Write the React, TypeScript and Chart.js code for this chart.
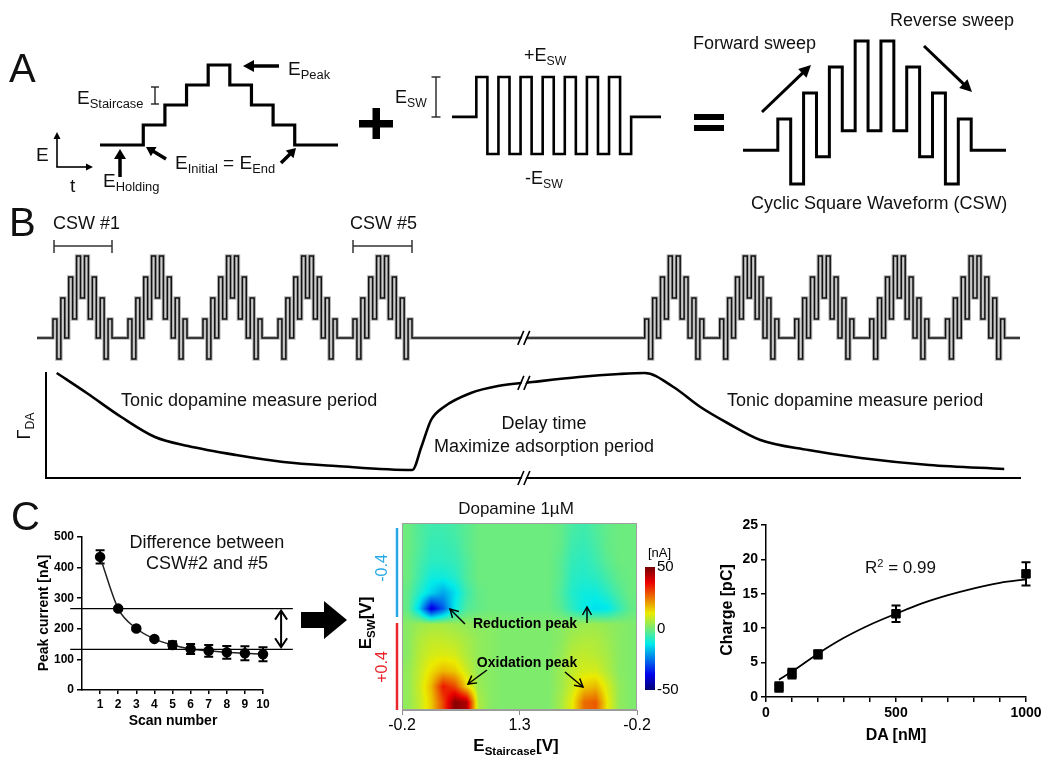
import React, { useEffect, useRef } from 'react';
import { Chart, registerables } from 'chart.js';
Chart.register(...registerables);

const FONT = '"Liberation Sans", Arial, Helvetica, sans-serif';
Chart.defaults.font.family = FONT;
Chart.defaults.color = '#000';

// ---------------- Panel A data ----------------
const STAIR_EDGES = [-2, 0, 1, 2, 3, 4, 5, 6, 7, 9];
const STAIR_LEVELS = [0, 1, 2, 3, 4, 3, 2, 1, 0];
const SQW_EDGES = [-2.2, 0, 1, 2, 3, 4, 5, 6, 7, 8, 9, 10, 11, 12, 13, 14, 16.7];
const SQW_LEVELS = [0, 1, -0.93, 1, -0.93, 1, -0.93, 1, -0.93, 1, -0.93, 1, -0.93, 1, -0.93, 0];
const CSW_A_HIGHS = [1.2, 2.2, 3.2, 4.2, 4.2, 3.2, 2.2, 1.2];
const CSW_A_LOWS = [-1.3, -0.25, 0.75, 0.75, 0.75, -0.25, -1.3];
const CSW_A_SPAN = [-2.7, 17.7];

// ---------------- Panel B data ----------------
const CSW_B_HIGHS = [0.9, 1.9, 2.9, 3.9, 3.9, 2.9, 1.9, 0.9];
const CSW_B_LOWS = [-1.0, 0, 0.9, 1.9, 0.9, 0, -1.0];
const CSW_B_STARTS = [0, 1, 2, 3, 4, 7.89, 8.89, 9.89, 10.89, 11.9];
const CSW_B_DURATION = 0.787;
const TRACE_SPAN = [-0.213, 12.893];
const GAMMA_AXIS_SPAN = [-0.093, 12.89];
const BREAK_T = 6.29;
const GAMMA_T = [0.05, 0.45, 0.91, 1.36, 1.8, 2.44, 3.07, 3.77, 4.79, 4.91, 5.04, 5.21, 5.57, 5.93, 6.39, 7.01, 7.55, 7.89, 8.27, 8.63, 8.99, 9.43, 10.07, 10.77, 11.68, 12.68];
const GAMMA = [1.05, 0.85, 0.61, 0.41, 0.32, 0.23, 0.16, 0.12, 0.08, 0.31, 0.58, 0.71, 0.85, 0.92, 0.96, 1.01, 1.04, 1.05, 0.91, 0.71, 0.55, 0.38, 0.28, 0.2, 0.13, 0.09];

// ---------------- Panel C data ----------------
const SCAN = [1, 2, 3, 4, 5, 6, 7, 8, 9, 10];
const PEAK = [435, 266, 201, 167, 147, 134, 128, 123, 120, 117];
const PEAK_ERR = [22, 4, 4, 4, 12, 16, 19, 21, 23, 23];
const DIFF_LINES = [266, 133];

const DA = [50, 100, 200, 500, 1000];
const CHARGE = [1.45, 3.4, 6.2, 12.1, 17.9];
const CHARGE_ERR = [0.7, 0.7, 0.6, 1.2, 1.7];
const FIT_DA = [50, 100, 200, 300, 400, 500, 600, 700, 800, 900, 1000];
const FIT_CHARGE = [2.5, 3.7, 6.3, 8.6, 10.5, 12.1, 13.6, 14.8, 15.8, 16.6, 17.1];

const HEAT_XTICKS = ['-0.2', '1.3', '-0.2'];
const HEAT_XTICK_POS = [0, 10, 20];
const HEAT_MIN = -50;
const HEAT_MAX = 50;
const COLORBAR_TICKS = [50, 0, -50];
const HEAT = [
  [-1, -4, -6, -6, -5, -3, -1, -1, -1, -1, -1, -1, -1, -2, -5, -6, -4, -2, -1, -1],
  [-1, -4, -7, -7, -6, -3, -1, -1, -1, -1, -1, -1, -1, -2, -6, -7, -5, -2, -1, -1],
  [-1, -5, -8, -8, -7, -4, -1, -1, -1, -1, -1, -1, -1, -3, -7, -8, -6, -3, -1, -1],
  [-1, -6, -11, -11, -9, -4, -1, -1, -1, -1, -1, -1, -1, -3, -8, -9, -8, -5, -2, -1],
  [-2, -9, -15, -20, -14, -6, -2, -1, -1, -1, -1, -1, -1, -4, -9, -11, -11, -8, -4, -1],
  [-2, -16, -40, -28, -12, -4, -2, -1, -1, -1, -1, -1, -1, -3, -8, -12, -14, -13, -7, -2],
  [2, 4, 5, 5, 4, 3, 2, 2, 1, 1, 1, 1, 1, 2, 3, 4, 4, 3, 2, 1],
  [2, 6, 8, 8, 7, 5, 3, 2, 1, 1, 1, 1, 1, 2, 5, 6, 6, 4, 2, 1],
  [2, 7, 10, 11, 10, 6, 3, 2, 1, 1, 1, 1, 1, 3, 7, 8, 7, 5, 2, 1],
  [3, 8, 14, 18, 16, 9, 3, 2, 1, 1, 1, 1, 1, 4, 8, 10, 10, 6, 2, 1],
  [3, 9, 18, 35, 30, 15, 4, 2, 1, 1, 1, 1, 1, 4, 9, 16, 18, 10, 3, 1],
  [3, 8, 16, 30, 48, 44, 6, 2, 1, 1, 1, 1, 1, 5, 12, 26, 28, 12, 3, 1],
];

// ---------------- helpers ----------------
function interleave(a: number[], b: number[]) {
  const out: number[] = [];
  a.forEach((v, i) => { out.push(v); if (i < b.length) out.push(b[i]); });
  return out;
}
function stepPoints(edges: number[], levels: number[]) {
  const pts: { x: number; y: number }[] = [];
  levels.forEach((lv, i) => { pts.push({ x: edges[i], y: lv }, { x: edges[i + 1], y: lv }); });
  return pts;
}
function cswAPoints() {
  const seq = interleave(CSW_A_HIGHS, CSW_A_LOWS);
  const edges = [CSW_A_SPAN[0], ...seq.map((_, i) => i), seq.length, CSW_A_SPAN[1]];
  return stepPoints(edges, [0, ...seq, 0]);
}
function traceBPoints() {
  const seq = interleave(CSW_B_HIGHS, CSW_B_LOWS);
  const seg = CSW_B_DURATION / seq.length;
  const edges = [TRACE_SPAN[0]];
  const levels: number[] = [];
  CSW_B_STARTS.forEach((s) => {
    levels.push(0); edges.push(s);
    seq.forEach((v, k) => { levels.push(v); edges.push(s + seg * (k + 1)); });
  });
  levels.push(0); edges.push(TRACE_SPAN[1]);
  return stepPoints(edges, levels);
}
function interpGamma(t: number) {
  for (let i = 0; i < GAMMA_T.length - 1; i++) {
    if (t >= GAMMA_T[i] && t <= GAMMA_T[i + 1]) {
      const f = (t - GAMMA_T[i]) / (GAMMA_T[i + 1] - GAMMA_T[i]);
      return GAMMA[i] + f * (GAMMA[i + 1] - GAMMA[i]);
    }
  }
  return 0;
}
function jet(v: number): [number, number, number] {
  const t = Math.min(1, Math.max(0, (v - HEAT_MIN) / (HEAT_MAX - HEAT_MIN)));
  const c = (x: number) => Math.round(235 * Math.min(1, Math.max(0, x)));
  return [c(1.5 - Math.abs(4 * t - 3)), c(1.5 - Math.abs(4 * t - 2)), c(1.5 - Math.abs(4 * t - 1))];
}
function drawBreak(ctx: CanvasRenderingContext2D, x: number, y: number) {
  ctx.save();
  ctx.fillStyle = '#fff';
  ctx.beginPath();
  ctx.moveTo(x - 6, y + 7); ctx.lineTo(x, y - 7); ctx.lineTo(x + 4, y - 7); ctx.lineTo(x - 2, y + 7);
  ctx.closePath(); ctx.fill();
  ctx.strokeStyle = '#000'; ctx.lineWidth = 1.6;
  ctx.beginPath();
  ctx.moveTo(x - 7, y + 7); ctx.lineTo(x - 1, y - 7);
  ctx.moveTo(x - 1, y + 7); ctx.lineTo(x + 5, y - 7);
  ctx.stroke();
  ctx.restore();
}
function fixSize(dim: 'width' | 'height', size: number) {
  return (s: any) => {
    s[dim] = size;
    s.paddingLeft = 0; s.paddingRight = 0; s.paddingTop = 0; s.paddingBottom = 0;
  };
}
function diagramConfig(datasets: any[], xr: number[], yr: number[], padding: any, plugins: any[] = []) {
  return {
    type: 'scatter',
    data: { datasets },
    options: {
      responsive: false, animation: false, events: [],
      layout: { padding },
      plugins: { legend: { display: false }, tooltip: { enabled: false } },
      scales: {
        x: { type: 'linear', min: xr[0], max: xr[1], display: false },
        y: { type: 'linear', min: yr[0], max: yr[1], display: false },
      },
    },
    plugins,
  };
}
function traceDs(points: any[], width: number, color = '#000') {
  return { data: points, showLine: true, borderColor: color, borderWidth: width, pointRadius: 0, tension: 0, clip: false, borderJoinStyle: 'miter', borderCapStyle: 'butt' };
}
function errorBarPlugin(id: string, dsIndex: number, errs: number[], cap: number, width: number) {
  return {
    id,
    beforeDatasetsDraw(chart: any) {
      const { ctx } = chart;
      const ys = chart.scales.y;
      const meta = chart.getDatasetMeta(dsIndex);
      const data = chart.data.datasets[dsIndex].data;
      ctx.save(); ctx.strokeStyle = '#000'; ctx.lineWidth = width;
      meta.data.forEach((el: any, i: number) => {
        const v = data[i].y, e = errs[i];
        const yt = ys.getPixelForValue(v + e), yb = ys.getPixelForValue(v - e);
        ctx.beginPath();
        ctx.moveTo(el.x, yt); ctx.lineTo(el.x, yb);
        ctx.moveTo(el.x - cap, yt); ctx.lineTo(el.x + cap, yt);
        ctx.moveTo(el.x - cap, yb); ctx.lineTo(el.x + cap, yb);
        ctx.stroke();
      });
      ctx.restore();
    },
  };
}
const tickStyle = (size: number) => ({ font: { size, weight: 'bold' }, color: '#000', padding: 3, maxRotation: 0, minRotation: 0 });
const gridStyle = { display: true, drawOnChartArea: false, drawTicks: true, tickLength: 5, color: '#000', lineWidth: 1.5 };
const borderStyle = { display: true, color: '#000', width: 1.5 };

// ---------------- chart configs ----------------
const stairConfig = () => diagramConfig([traceDs(stepPoints(STAIR_EDGES, STAIR_LEVELS), 3.2)], [-2, 9], [0, 4], { left: 10, right: 12, top: 10, bottom: 10 });
const sqwConfig = () => diagramConfig([traceDs(stepPoints(SQW_EDGES, SQW_LEVELS), 2.6)], [-2.2, 16.7], [-0.93, 1], { left: 12, right: 14, top: 12, bottom: 11 });
const cswAConfig = () => diagramConfig([traceDs(cswAPoints(), 3)], CSW_A_SPAN, [-1.3, 4.2], { left: 13, right: 14, top: 11, bottom: 11 });
const traceBConfig = () => {
  const pts = traceBPoints();
  return diagramConfig(
    [traceDs(pts, 1.5, '#111'), traceDs(pts, 3.6, '#b4b4b4')],
    TRACE_SPAN, [-1.1, 4.0], { left: 37, right: 30, top: 14, bottom: 14 },
    [{ id: 'brk', afterDatasetsDraw(chart: any) { drawBreak(chart.ctx, chart.scales.x.getPixelForValue(BREAK_T), chart.scales.y.getPixelForValue(0)); } }],
  );
};
const gammaConfig = () => ({
  type: 'scatter',
  data: { datasets: [{ data: GAMMA_T.map((t, i) => ({ x: t, y: GAMMA[i] })), showLine: true, borderColor: '#000', borderWidth: 2.6, pointRadius: 0, cubicInterpolationMode: 'monotone', clip: false }] },
  options: {
    responsive: false, animation: false, events: [],
    layout: { padding: { left: 46, right: 30, top: 13, bottom: 12 } },
    plugins: { legend: { display: false }, tooltip: { enabled: false } },
    scales: {
      x: { type: 'linear', min: GAMMA_AXIS_SPAN[0], max: GAMMA_AXIS_SPAN[1], ticks: { display: false }, grid: { display: false }, border: { display: true, color: '#000', width: 2 }, afterFit: fixSize('height', 0) },
      y: { type: 'linear', min: 0, max: 1.05, ticks: { display: false }, grid: { display: false }, border: { display: true, color: '#000', width: 2 }, afterFit: fixSize('width', 0) },
    },
  },
  plugins: [{
    id: 'brk2',
    afterDatasetsDraw(chart: any) {
      const x = chart.scales.x.getPixelForValue(BREAK_T);
      drawBreak(chart.ctx, x, chart.scales.y.getPixelForValue(interpGamma(BREAK_T)));
      drawBreak(chart.ctx, x, chart.scales.y.getPixelForValue(0));
    },
  }],
});
const peakConfig = () => ({
  type: 'scatter',
  data: { datasets: [{ data: SCAN.map((s, i) => ({ x: s, y: PEAK[i] })), showLine: true, borderColor: '#222', borderWidth: 1.5, pointRadius: 4.5, pointBackgroundColor: '#000', pointBorderColor: '#000', cubicInterpolationMode: 'monotone', clip: false }] },
  options: {
    responsive: false, animation: false, events: [],
    layout: { padding: { left: 0, right: 37, top: 12, bottom: 0 } },
    plugins: { legend: { display: false }, tooltip: { enabled: false } },
    scales: {
      x: { type: 'linear', min: 0, max: 10, ticks: tickStyle(12), grid: { ...gridStyle, tickLength: 4 }, border: borderStyle, afterBuildTicks: (s: any) => { s.ticks = SCAN.map((v) => ({ value: v })); }, afterFit: fixSize('height', 60) },
      y: { type: 'linear', min: 0, max: 500, ticks: tickStyle(12), grid: gridStyle, border: borderStyle, afterBuildTicks: (s: any) => { s.ticks = [0, 100, 200, 300, 400, 500].map((v) => ({ value: v })); }, afterFit: fixSize('width', 82) },
    },
  },
  plugins: [
    errorBarPlugin('errPeak', 0, PEAK_ERR, 4.5, 2),
    {
      id: 'diff',
      afterDatasetsDraw(chart: any) {
        const { ctx, scales: { x, y } } = chart;
        const xl = x.getPixelForValue(-0.65), xr = x.getPixelForValue(11.65), xa = x.getPixelForValue(11.0);
        ctx.save(); ctx.strokeStyle = '#000'; ctx.lineWidth = 1.3;
        DIFF_LINES.forEach((v) => { const py = y.getPixelForValue(v); ctx.beginPath(); ctx.moveTo(xl, py); ctx.lineTo(xr, py); ctx.stroke(); });
        const y1 = y.getPixelForValue(DIFF_LINES[0]) + 2, y2 = y.getPixelForValue(DIFF_LINES[1]) - 2;
        ctx.lineWidth = 2;
        ctx.beginPath(); ctx.moveTo(xa, y1); ctx.lineTo(xa, y2);
        ctx.moveTo(xa - 6, y1 + 9); ctx.lineTo(xa, y1); ctx.lineTo(xa + 6, y1 + 9);
        ctx.moveTo(xa - 6, y2 - 9); ctx.lineTo(xa, y2); ctx.lineTo(xa + 6, y2 - 9);
        ctx.stroke(); ctx.restore();
      },
    },
  ],
});
const chargeConfig = () => ({
  type: 'scatter',
  data: {
    datasets: [
      { data: FIT_DA.map((d, i) => ({ x: d, y: FIT_CHARGE[i] })), showLine: true, borderColor: '#000', borderWidth: 1.8, pointRadius: 0, cubicInterpolationMode: 'monotone', clip: false },
      { data: DA.map((d, i) => ({ x: d, y: CHARGE[i] })), showLine: false, pointStyle: 'rect', pointRadius: 6, pointBackgroundColor: '#000', pointBorderColor: '#000', clip: false },
    ],
  },
  options: {
    responsive: false, animation: false, events: [],
    layout: { padding: { left: 0, right: 24, top: 15, bottom: 0 } },
    plugins: { legend: { display: false }, tooltip: { enabled: false } },
    scales: {
      x: { type: 'linear', min: 0, max: 1000, ticks: { ...tickStyle(14), autoSkip: false, stepSize: 100, callback: (v: any) => (v % 500 === 0 ? String(v) : '') }, grid: gridStyle, border: borderStyle, afterFit: fixSize('height', 53) },
      y: { type: 'linear', min: 0, max: 25, ticks: { ...tickStyle(14), stepSize: 5 }, grid: gridStyle, border: borderStyle, afterFit: fixSize('width', 86) },
    },
  },
  plugins: [errorBarPlugin('errCharge', 1, CHARGE_ERR, 4.5, 2)],
});
const heatConfig = () => ({
  type: 'scatter',
  data: { datasets: [] },
  options: {
    responsive: false, animation: false, events: [],
    layout: { padding: { left: 0, right: 43, top: 28, bottom: 0 } },
    plugins: { legend: { display: false }, tooltip: { enabled: false } },
    scales: {
      x: {
        type: 'linear', min: 0, max: HEAT[0].length,
        afterBuildTicks: (s: any) => { s.ticks = HEAT_XTICK_POS.map((v) => ({ value: v })); },
        ticks: { font: { size: 16 }, color: '#000', padding: 1, maxRotation: 0, callback: (_v: any, i: number) => HEAT_XTICKS[i] },
        grid: { display: true, drawOnChartArea: false, tickLength: 5, color: '#888', lineWidth: 1 },
        border: { display: true, color: '#999', width: 1 },
        afterFit: fixSize('height', 50),
      },
      y: { type: 'linear', min: 0, max: HEAT.length, reverse: true, ticks: { display: false }, grid: { display: false }, border: { display: true, color: '#999', width: 1 }, afterFit: fixSize('width', 62) },
    },
  },
  plugins: [{
    id: 'heat',
    beforeDatasetsDraw(chart: any) {
      const { ctx, scales: { x, y } } = chart;
      const rows = HEAT.length, cols = HEAT[0].length;
      const x0 = Math.round(x.getPixelForValue(0)), x1 = Math.round(x.getPixelForValue(cols));
      const y0 = Math.round(y.getPixelForValue(0)), y1 = Math.round(y.getPixelForValue(rows));
      const w = x1 - x0, h = y1 - y0;
      const off = document.createElement('canvas'); off.width = w; off.height = h;
      const octx = off.getContext('2d')!;
      const img = octx.createImageData(w, h);
      for (let j = 0; j < h; j++) {
        const gy = Math.min(rows - 1, Math.max(0, ((j + 0.5) / h) * rows - 0.5));
        const r0 = Math.floor(gy), r1 = Math.min(rows - 1, r0 + 1), fy = gy - r0;
        for (let i = 0; i < w; i++) {
          const gx = Math.min(cols - 1, Math.max(0, ((i + 0.5) / w) * cols - 0.5));
          const c0 = Math.floor(gx), c1 = Math.min(cols - 1, c0 + 1), fx = gx - c0;
          const v = (HEAT[r0][c0] * (1 - fx) + HEAT[r0][c1] * fx) * (1 - fy) + (HEAT[r1][c0] * (1 - fx) + HEAT[r1][c1] * fx) * fy;
          const [r, g, b] = jet(v);
          const k = (j * w + i) * 4;
          img.data[k] = r; img.data[k + 1] = g; img.data[k + 2] = b; img.data[k + 3] = 255;
        }
      }
      octx.putImageData(img, 0, 0);
      ctx.drawImage(off, x0, y0);
      ctx.save(); ctx.strokeStyle = '#a0a0a0'; ctx.lineWidth = 1;
      ctx.strokeRect(x0 + 0.5, y0 + 0.5, w - 1, h - 1); ctx.restore();
    },
    afterDraw(chart: any) {
      const { ctx, chartArea: a } = chart;
      const cbL = a.right + 8, cbR = a.right + 18, cbT = a.top + 44, cbB = a.bottom - 20;
      for (let py = cbT; py < cbB; py++) {
        const v = HEAT_MAX - ((py - cbT + 0.5) / (cbB - cbT)) * (HEAT_MAX - HEAT_MIN);
        const [r, g, b] = jet(v);
        ctx.fillStyle = `rgb(${r},${g},${b})`; ctx.fillRect(cbL, py, cbR - cbL, 1);
      }
      ctx.save(); ctx.fillStyle = '#000'; ctx.textBaseline = 'middle'; ctx.textAlign = 'left';
      ctx.font = `15px ${FONT}`;
      COLORBAR_TICKS.forEach((v) => { const py = cbT + ((HEAT_MAX - v) / (HEAT_MAX - HEAT_MIN)) * (cbB - cbT); ctx.fillText(String(v), cbR + 2, py); });
      ctx.font = `13px ${FONT}`; ctx.fillText('[nA]', cbL + 3, cbT - 14);
      ctx.restore();
    },
  }],
});

// ---------------- components ----------------
function ChartCanvas({ x, y, w, h, make }: { x: number; y: number; w: number; h: number; make: () => any }) {
  const ref = useRef<HTMLCanvasElement | null>(null);
  useEffect(() => {
    if (!ref.current) return;
    const chart = new Chart(ref.current, make());
    return () => chart.destroy();
  }, []);
  return <canvas ref={ref} width={w} height={h} style={{ position: 'absolute', left: x, top: y, width: w, height: h }} />;
}

function Txt({ x, y, size = 18, bold = false, color = '#111', anchor = 'start', rotate = 0, children }: any) {
  const tx = anchor === 'start' ? '0' : anchor === 'middle' ? '-50%' : '-100%';
  return (
    <div style={{
      position: 'absolute', left: x, top: y, fontSize: size, fontWeight: bold ? 'bold' : 'normal', color,
      lineHeight: 1, whiteSpace: 'nowrap', fontFamily: FONT,
      transform: `translate(${tx}, -50%)` + (rotate ? ` rotate(${rotate}deg)` : ''),
    }}>{children}</div>
  );
}
const Sub = ({ children }: any) => <span style={{ fontSize: '0.68em', position: 'relative', top: '0.32em' }}>{children}</span>;

function Arrow({ x1, y1, x2, y2, w = 3, head = 10, hw = 5, open = false, color = '#000' }: any) {
  const dx = x2 - x1, dy = y2 - y1, L = Math.hypot(dx, dy), ux = dx / L, uy = dy / L;
  const bx = x2 - ux * head, by = y2 - uy * head, px = -uy, py = ux;
  if (open) {
    return (
      <g stroke={color} strokeWidth={w} fill="none">
        <line x1={x1} y1={y1} x2={x2} y2={y2} />
        <polyline points={`${bx + px * hw},${by + py * hw} ${x2},${y2} ${bx - px * hw},${by - py * hw}`} />
      </g>
    );
  }
  return (
    <g>
      <line x1={x1} y1={y1} x2={bx + ux} y2={by + uy} stroke={color} strokeWidth={w} />
      <polygon points={`${x2},${y2} ${bx + px * hw},${by + py * hw} ${bx - px * hw},${by - py * hw}`} fill={color} />
    </g>
  );
}
function IBar({ x, y1, y2, cap = 4 }: any) {
  return (
    <g stroke="#222" strokeWidth={1.4}>
      <line x1={x} y1={y1} x2={x} y2={y2} />
      <line x1={x - cap} y1={y1} x2={x + cap} y2={y1} />
      <line x1={x - cap} y1={y2} x2={x + cap} y2={y2} />
    </g>
  );
}
function Bracket({ x1, x2, y }: any) {
  return (
    <g stroke="#333" strokeWidth={1.5}>
      <line x1={x1} y1={y} x2={x2} y2={y} />
      <line x1={x1} y1={y - 6} x2={x1} y2={y + 7} />
      <line x1={x2} y1={y - 6} x2={x2} y2={y + 7} />
    </g>
  );
}

export default function App() {
  return (
    <div style={{ position: 'absolute', left: 0, top: 0, width: 1050, height: 767, background: '#fff', overflow: 'hidden', fontFamily: FONT }}>
      {/* Panel A */}
      <ChartCanvas x={90} y={55} w={260} h={100} make={stairConfig} />
      <ChartCanvas x={440} y={65} w={235} h={100} make={sqwConfig} />
      <ChartCanvas x={730} y={30} w={290} h={165} make={cswAConfig} />
      {/* Panel B */}
      <ChartCanvas x={0} y={240} w={1050} h={135} make={traceBConfig} />
      <ChartCanvas x={0} y={360} w={1050} h={130} make={gammaConfig} />
      {/* Panel C */}
      <ChartCanvas x={0} y={525} w={300} h={225} make={peakConfig} />
      <ChartCanvas x={340} y={495} w={340} h={265} make={heatConfig} />
      <ChartCanvas x={680} y={510} w={370} h={240} make={chargeConfig} />

      <svg width={1050} height={767} style={{ position: 'absolute', left: 0, top: 0, pointerEvents: 'none' }}>
        {/* Panel A annotations */}
        <Arrow x1={279} y1={66} x2={243} y2={66} w={3.5} head={11} hw={6} />
        <Arrow x1={120} y1={177} x2={120} y2={149} w={3.5} head={10} hw={6} />
        <Arrow x1={166} y1={159} x2={146} y2={147} w={3.5} head={9} hw={5.5} />
        <Arrow x1={281} y1={163} x2={296} y2={148} w={3.5} head={9} hw={5.5} />
        <Arrow x1={57} y1={167} x2={57} y2={132} w={1.6} head={7} hw={3.5} />
        <Arrow x1={56.2} y1={167} x2={93} y2={167} w={1.6} head={7} hw={3.5} />
        <IBar x={155} y1={87} y2={104} cap={4} />
        <IBar x={436} y1={77} y2={117} cap={4.5} />
        <rect x={359} y={120} width={34} height={7.5} fill="#000" />
        <rect x={372.5} y={108} width={7.5} height={31} fill="#000" />
        <rect x={694} y={114} width={30} height={6} fill="#000" />
        <rect x={694} y={125} width={30} height={6} fill="#000" />
        <Arrow x1={762} y1={112} x2={811} y2={65} w={3} head={12} hw={6} />
        <Arrow x1={924} y1={46} x2={972} y2={92} w={3} head={12} hw={6} />
        {/* Panel B annotations */}
        <Bracket x1={54} x2={112} y={246} />
        <Bracket x1={353} x2={412} y={246} />
        {/* Panel C annotations */}
        <polygon points="301,612 324,612 324,601 347,620 324,639 324,628 301,628" fill="#000" />
        <line x1={397} y1={528} x2={397} y2={617} stroke="#29a8e6" strokeWidth={2.5} />
        <line x1={397} y1={623} x2={397} y2={710} stroke="#e8262b" strokeWidth={2.5} />
        <Arrow x1={465} y1={624} x2={450} y2={609} w={1.5} head={8} hw={4.5} open />
        <Arrow x1={587} y1={623} x2={587} y2={607} w={1.5} head={8} hw={4.5} open />
        <Arrow x1={487} y1={670} x2={468} y2={684} w={1.5} head={8} hw={4.5} open />
        <Arrow x1={565} y1={672} x2={583} y2={687} w={1.5} head={8} hw={4.5} open />
      </svg>

      {/* Panel letters */}
      <Txt x={9} y={68} size={40}>A</Txt>
      <Txt x={9} y={222} size={40}>B</Txt>
      <Txt x={11} y={516} size={40}>C</Txt>

      {/* Panel A text */}
      <Txt x={77} y={97} size={19}>E<Sub>Staircase</Sub></Txt>
      <Txt x={288} y={68} size={19}>E<Sub>Peak</Sub></Txt>
      <Txt x={175} y={162} size={19}>E<Sub>Initial</Sub> = E<Sub>End</Sub></Txt>
      <Txt x={103} y={180} size={19}>E<Sub>Holding</Sub></Txt>
      <Txt x={36} y={154} size={19}>E</Txt>
      <Txt x={70} y={185} size={19}>t</Txt>
      <Txt x={395} y={97} size={18}>E<Sub>SW</Sub></Txt>
      <Txt x={524} y={55} size={18}>+E<Sub>SW</Sub></Txt>
      <Txt x={525} y={178} size={18}>-E<Sub>SW</Sub></Txt>
      <Txt x={693} y={43} size={18}>Forward sweep</Txt>
      <Txt x={890} y={20} size={18}>Reverse sweep</Txt>
      <Txt x={751} y={203} size={18}>Cyclic Square Waveform (CSW)</Txt>

      {/* Panel B text */}
      <Txt x={53} y={223} size={18}>CSW #1</Txt>
      <Txt x={350} y={223} size={18}>CSW #5</Txt>
      <Txt x={121} y={400} size={18}>Tonic dopamine measure period</Txt>
      <Txt x={727} y={400} size={18}>Tonic dopamine measure period</Txt>
      <Txt x={544} y={423} size={18} anchor="middle">Delay time</Txt>
      <Txt x={544} y={446} size={18} anchor="middle">Maximize adsorption period</Txt>
      <Txt x={24} y={426} size={18} anchor="middle" rotate={-90}>Γ<Sub>DA</Sub></Txt>

      {/* Panel C text */}
      <Txt x={207} y={542} size={18} anchor="middle">Difference between</Txt>
      <Txt x={207} y={563} size={18} anchor="middle">CSW#2 and #5</Txt>
      <Txt x={43} y={613} size={14} bold anchor="middle" rotate={-90} color="#000">Peak current [nA]</Txt>
      <Txt x={173} y={720} size={14} bold anchor="middle" color="#000">Scan number</Txt>

      <Txt x={516} y={508} size={17} anchor="middle">Dopamine 1µM</Txt>
      <Txt x={525} y={623} size={14} bold anchor="middle" color="#000">Reduction peak</Txt>
      <Txt x={527} y={662} size={14} bold anchor="middle" color="#000">Oxidation peak</Txt>
      <Txt x={365} y={623} size={17} bold anchor="middle" rotate={-90} color="#000">E<Sub>SW</Sub>[V]</Txt>
      <Txt x={382} y={568} size={16} anchor="middle" rotate={-90} color="#29a8e6">-0.4</Txt>
      <Txt x={382} y={667} size={16} anchor="middle" rotate={-90} color="#e8262b">+0.4</Txt>
      <Txt x={516} y={745} size={17} bold anchor="middle" color="#000">E<Sub>Staircase</Sub>[V]</Txt>

      <Txt x={865} y={567} size={17}>R<span style={{ fontSize: '0.65em', position: 'relative', top: '-0.5em' }}>2</span> = 0.99</Txt>
      <Txt x={727} y={610} size={16} bold anchor="middle" rotate={-90} color="#000">Charge [pC]</Txt>
      <Txt x={896} y={735} size={16} bold anchor="middle" color="#000">DA [nM]</Txt>
    </div>
  );
}
